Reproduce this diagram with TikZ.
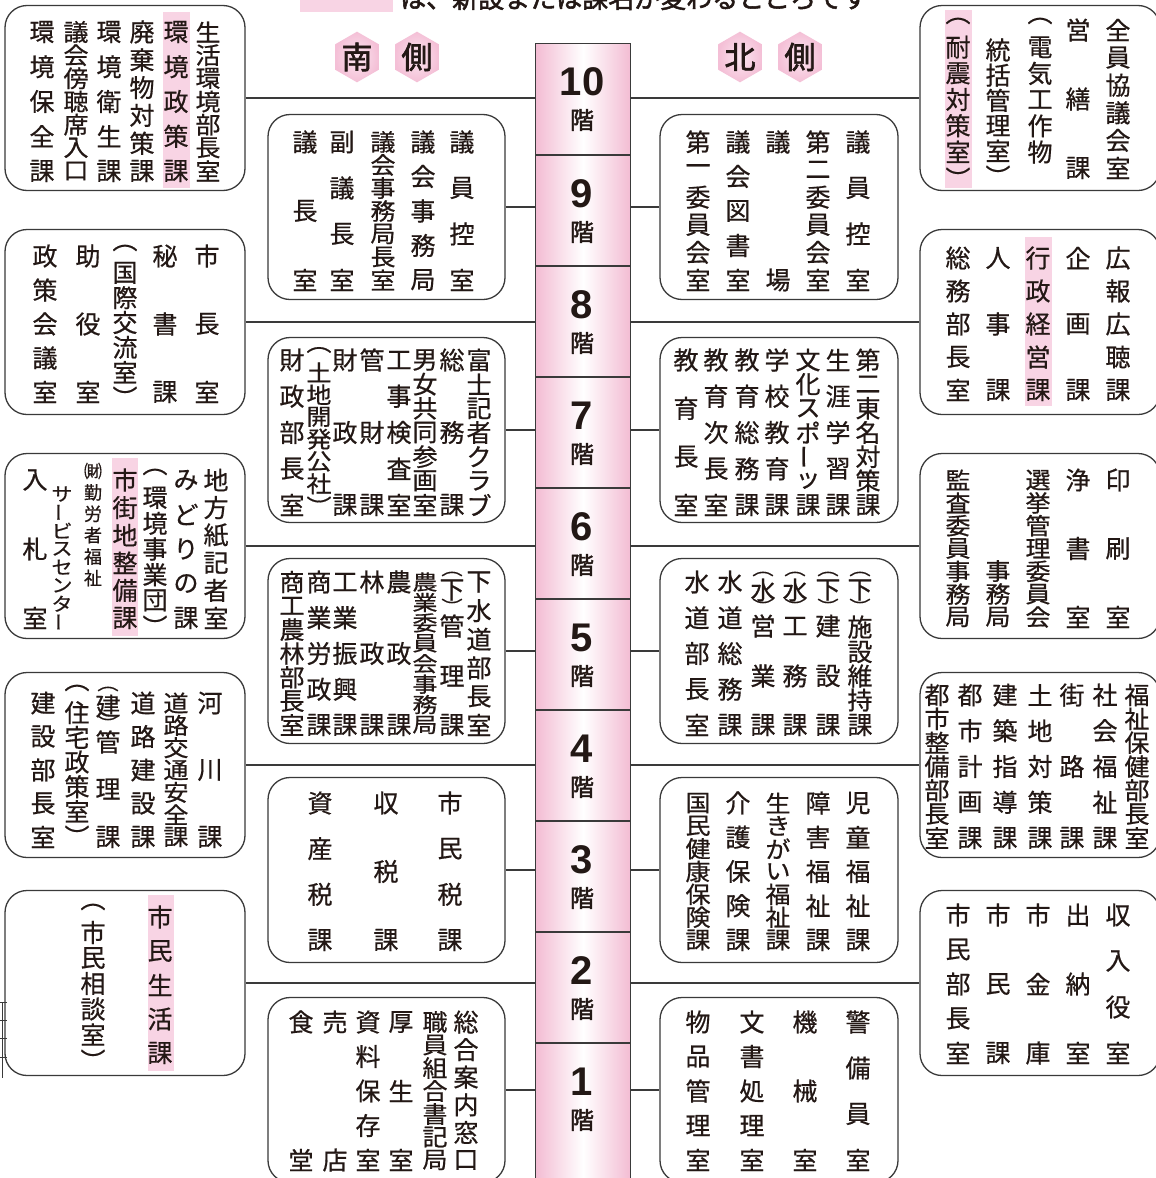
\documentclass[tikz,border=0pt]{standalone}
\usepackage{fontspec}
\usepackage{graphicx}
\usetikzlibrary{shapes.geometric}
\newfontfamily\jp{Noto Sans CJK JP}[FakeBold=0.6]
\newfontfamily\jpb{Noto Sans CJK JP}[FakeBold=2]
\newfontfamily\numf{Liberation Sans}
\definecolor{lc}{HTML}{3A3A3A}
\definecolor{tc}{HTML}{231815}
\definecolor{hl}{HTML}{F8D4E4}
\definecolor{pk}{HTML}{F3BCD3}
\definecolor{hexin}{HTML}{FBE6F0}
\definecolor{hexout}{HTML}{F4BFD6}
\newcounter{chc}
\newcommand\vb{\rotatebox[origin=c]{90}{ー}}
\newcommand\pl{\scalebox{0.85}[0.7]{︵}}
\newcommand\pr{\scalebox{0.85}[0.7]{︶}}
% #1 font size, #2 x, #3 top y, #4 bottom y, #5 count, #6 list
\newcommand\vcol[6][25]{%
  \foreach \c [count=\k from 0] in {#6}{%
    \pgfmathsetmacro\yy{#3+\k*(#4-#3)/max(#5-1,1)}%
    \pgfmathsetmacro\ys{min(1,(#4-#3)/max(#5-1,1)/(#1*0.98))}%
    \stepcounter{chc}%
    \node[jt, font=\jp\fontsize{#1}{#1}\selectfont] (ch\arabic{chc}) at (#2,\yy) {\scalebox{1}[\ys]{\c}};}}
\newcommand\vpos[3][25]{%
  \foreach \yy/\c in {#3}{%
    \stepcounter{chc}%
    \node[jt, font=\jp\fontsize{#1}{#1}\selectfont] (ch\arabic{chc}) at (#2,\yy) {\c};}}
\tikzset{
  ln/.style={draw=lc, line width=1.3pt},
  boxs/.style={draw=lc, line width=1.3pt, rounded corners=22pt, fill=white, minimum height=185pt, inner sep=0pt},
  jt/.style={inner sep=0pt, text=tc},
  hexs/.style={regular polygon, regular polygon sides=6, shape border rotate=30, minimum size=50pt, inner sep=0pt, inner color=hexin, outer color=hexout, text=tc, font=\jpb\fontsize{31}{31}\selectfont},
  numt/.style={inner sep=0pt, text=tc, font=\numf\bfseries\fontsize{40}{40}\selectfont},
  kait/.style={inner sep=0pt, text=tc, font=\jpb\fontsize{24}{24}\selectfont},
  hdr/.style={inner sep=0pt, text=tc, font=\jpb\fontsize{26}{26}\selectfont},
  hlbox/.style={fill=hl, draw=none}
}
\begin{document}
\begin{tikzpicture}[x=1pt, y=-1pt]
\useasboundingbox (0,0) rectangle (1156,1178);
\clip (0,0) rectangle (1156,1178);
\fill[white] (0,0) rectangle (1156,1178);

% header
\fill[hl] (300,-12) rectangle (393,12);
\node[hdr, anchor=west] (hdr) at (400,-2) {は、新設または課名が変わるところです};

% side labels
\node[hexs] (hs1) at (357,57) {南};
\node[hexs] (hs2) at (417,57) {側};
\node[hexs] (hn1) at (740,57) {北};
\node[hexs] (hn2) at (800,57) {側};

% central column
\node[draw=lc, line width=1.3pt, left color=pk, right color=pk, middle color=white, minimum width=95pt, minimum height=1170pt, anchor=north west, inner sep=0pt] (col) at (535,43) {};
\foreach \t in {155,266,377,488,599,710,821,932,1043}
  \draw[ln] (col.west |- 0,\t) -- (col.east |- 0,\t);
\foreach \f/\t in {10/43,9/155,8/266,7/377,6/488,5/599,4/710,3/821,2/932,1/1043}{
  \node[numt] (n\f) at (582,\t+39) {\f};
  \node[kait] (k\f) at (582,\t+77) {階};
}

% boxes
\node[boxs, minimum width=240pt] (L10) at (125,98) {};
\node[boxs, minimum width=240pt] (L8) at (125,322) {};
\node[boxs, minimum width=240pt] (L6) at (125,546) {};
\node[boxs, minimum width=240pt] (L4) at (125,765) {};
\node[boxs, minimum width=240pt] (L2) at (125,983) {};
\node[boxs, minimum width=237pt] (IL9) at (386.5,207) {};
\node[boxs, minimum width=237pt] (IL7) at (386.5,430) {};
\node[boxs, minimum width=237pt] (IL5) at (386.5,651) {};
\node[boxs, minimum width=237pt] (IL3) at (386.5,870) {};
\node[boxs, minimum width=237pt] (IL1) at (386.5,1090) {};
\node[boxs, minimum width=238pt] (IR9) at (779,207) {};
\node[boxs, minimum width=238pt] (IR7) at (779,430) {};
\node[boxs, minimum width=238pt] (IR5) at (779,651) {};
\node[boxs, minimum width=238pt] (IR3) at (779,870) {};
\node[boxs, minimum width=238pt] (IR1) at (779,1090) {};
\node[boxs, minimum width=240pt] (R10) at (1040,98) {};
\node[boxs, minimum width=240pt] (R8) at (1040,322) {};
\node[boxs, minimum width=240pt] (R6) at (1040,546) {};
\node[boxs, minimum width=240pt] (R4) at (1040,765) {};
\node[boxs, minimum width=240pt] (R2) at (1040,983) {};

% connectors
\foreach \b in {L10,L8,L6,L4,L2,IL9,IL7,IL5,IL3,IL1}
  \draw[ln] (\b.east) -- (\b.east -| col.west);
\foreach \b in {R10,R8,R6,R4,R2,IR9,IR7,IR5,IR3,IR1}
  \draw[ln] (col.east |- \b.west) -- (\b.west);

% small edge marks bottom-left
\draw[draw=lc, line width=0.7pt] (2,1002) -- (2,1078);
\foreach \t in {1002,1020,1038,1057}
  \draw[draw=lc, line width=0.7pt] (0,\t) -- (7,\t);

% highlights
\fill[hlbox] (163,12) rectangle (190,188);
\fill[hlbox] (112,458) rectangle (138,636);
\fill[hlbox] (148,895) rectangle (174,1071);
\fill[hlbox] (945,10) rectangle (972,188);
\fill[hlbox] (1025,237) rectangle (1052,406);

% ---- Left outer 10
\vcol{42}{32}{171}{5}{環,境,保,全,課}
\vcol{76}{32}{171}{7}{議,会,傍,聴,席,入,口}
\vcol{109}{32}{171}{5}{環,境,衛,生,課}
\vcol{142}{32}{171}{6}{廃,棄,物,対,策,課}
\vcol{176}{32}{171}{5}{環,境,政,策,課}
\vcol{208}{32}{171}{7}{生,活,環,境,部,長,室}
% ---- Left outer 8
\vcol{45}{256}{392}{5}{政,策,会,議,室}
\vcol{88}{256}{392}{3}{助,役,室}
\vcol{125}{248}{397}{7}{︵,国,際,交,流,室,︶}
\vcol{165}{256}{392}{3}{秘,書,課}
\vcol{207}{256}{392}{3}{市,長,室}
% ---- Left outer 6
\vcol{35}{480}{618}{3}{入,札,室}
\vcol[21]{62}{494}{622}{8}{サ,\vb,ビ,ス,セ,ン,タ,\vb}
\vcol[18]{93}{471}{578}{6}{㈶,勤,労,者,福,祉}
\vcol{125}{480}{618}{6}{市,街,地,整,備,課}
\vcol{155}{472}{626}{7}{︵,環,境,事,業,団,︶}
\vcol{186}{480}{618}{5}{み,ど,り,の,課}
\vcol{216}{480}{618}{6}{地,方,紙,記,者,室}
% ---- Left outer 4
\vcol{43}{703}{837}{5}{建,設,部,長,室}
\vcol{77}{688}{836}{7}{︵,住,宅,政,策,室,︶}
\vpos{108}{689/\pl,706/建,723/\pr,742/管,789/理,837/課}
\vcol{143}{703}{837}{5}{道,路,建,設,課}
\vcol{176}{703}{837}{7}{道,路,交,通,安,全,課}
\vcol{210}{703}{837}{3}{河,川,課}
% ---- Left outer 2
\vcol{93}{907}{1060}{7}{︵,市,民,相,談,室,︶}
\vcol{160}{917}{1053}{5}{市,民,生,活,課}

% ---- Inner left 9
\vcol{305}{142}{280}{3}{議,長,室}
\vcol{342}{142}{280}{4}{副,議,長,室}
\vcol{383}{142}{280}{7}{議,会,事,務,局,長,室}
\vcol{423}{142}{280}{5}{議,会,事,務,局}
\vcol{462}{142}{280}{4}{議,員,控,室}
% ---- Inner left 7
\vcol{292}{360}{505}{5}{財,政,部,長,室}
\vcol{319}{350}{506}{8}{︵,土,地,開,発,公,社,︶}
\vcol{345}{360}{505}{3}{財,政,課}
\vcol{372}{360}{505}{3}{管,財,課}
\vcol{399}{360}{505}{5}{工,事,検,査,室}
\vcol{425}{360}{505}{7}{男,女,共,同,参,画,室}
\vcol{452}{360}{505}{3}{総,務,課}
\vcol{479}{360}{505}{7}{富,士,記,者,ク,ラ,ブ}
% ---- Inner left 5
\vcol{292}{582}{725}{7}{商,工,農,林,部,長,室}
\vcol{319}{582}{725}{5}{商,業,労,政,課}
\vcol{345}{582}{725}{5}{工,業,振,興,課}
\vcol{372}{582}{725}{3}{林,政,課}
\vcol{399}{582}{725}{3}{農,政,課}
\vcol{425}{582}{725}{8}{農,業,委,員,会,事,務,局}
\vpos{452}{574/\pl,590/下,606/\pr,626/管,676/理,725/課}
\vcol{479}{582}{725}{6}{下,水,道,部,長,室}
% ---- Inner left 3
\vcol{320}{803}{940}{4}{資,産,税,課}
\vcol{386}{803}{940}{3}{収,税,課}
\vcol{450}{803}{940}{4}{市,民,税,課}
% ---- Inner left 1
\vcol{301}{1022}{1160}{2}{食,堂}
\vcol{335}{1022}{1160}{2}{売,店}
\vcol{368}{1022}{1160}{5}{資,料,保,存,室}
\vcol{401}{1022}{1160}{3}{厚,生,室}
\vcol{435}{1022}{1160}{7}{職,員,組,合,書,記,局}
\vcol{466}{1022}{1160}{6}{総,合,案,内,窓,口}

% ---- Inner right 9
\vcol{698}{142}{280}{6}{第,一,委,員,会,室}
\vcol{738}{142}{280}{5}{議,会,図,書,室}
\vcol{778}{142}{280}{2}{議,場}
\vcol{818}{142}{280}{6}{第,二,委,員,会,室}
\vcol{858}{142}{280}{4}{議,員,控,室}
% ---- Inner right 7
\vcol{686}{360}{505}{4}{教,育,長,室}
\vcol{716}{360}{505}{5}{教,育,次,長,室}
\vcol{747}{360}{505}{5}{教,育,総,務,課}
\vcol{777}{360}{505}{5}{学,校,教,育,課}
\vcol{808}{360}{505}{7}{文,化,ス,ポ,\vb,ッ,課}
\vcol{838}{360}{505}{5}{生,涯,学,習,課}
\vcol{868}{360}{505}{7}{第,二,東,名,対,策,課}
% ---- Inner right 5
\vcol{697}{582}{725}{5}{水,道,部,長,室}
\vcol{730}{582}{725}{5}{水,道,総,務,課}
\vpos{763}{574/\pl,590/水,606/\pr,626/営,676/業,725/課}
\vpos{795}{574/\pl,590/水,606/\pr,626/工,676/務,725/課}
\vpos{828}{574/\pl,590/下,606/\pr,626/建,676/設,725/課}
\vpos{860}{574/\pl,590/下,606/\pr,627/施,652/設,676/維,700/持,725/課}
% ---- Inner right 3
\vcol{698}{803}{940}{7}{国,民,健,康,保,険,課}
\vcol{738}{803}{940}{5}{介,護,保,険,課}
\vcol{778}{803}{940}{7}{生,き,が,い,福,祉,課}
\vcol{818}{803}{940}{5}{障,害,福,祉,課}
\vcol{858}{803}{940}{5}{児,童,福,祉,課}
% ---- Inner right 1
\vcol{698}{1022}{1160}{5}{物,品,管,理,室}
\vcol{752}{1022}{1160}{5}{文,書,処,理,室}
\vcol{805}{1022}{1160}{3}{機,械,室}
\vcol{858}{1022}{1160}{4}{警,備,員,室}

% ---- Right outer 10
\vcol{958}{21}{178}{7}{︵,耐,震,対,策,室,︶}
\vcol{998}{50}{176}{6}{統,括,管,理,室,︶}
\vcol{1040}{21}{152}{6}{︵,電,気,工,作,物}
\vcol{1078}{30}{168}{3}{営,繕,課}
\vcol{1118}{30}{168}{6}{全,員,協,議,会,室}
% ---- Right outer 8
\vcol{958}{258}{390}{5}{総,務,部,長,室}
\vcol{998}{258}{390}{3}{人,事,課}
\vcol{1038}{258}{390}{5}{行,政,経,営,課}
\vcol{1078}{258}{390}{3}{企,画,課}
\vcol{1118}{258}{390}{5}{広,報,広,聴,課}
% ---- Right outer 6
\vcol{958}{480}{617}{7}{監,査,委,員,事,務,局}
\vcol{998}{571}{617}{3}{事,務,局}
\vcol{1038}{480}{617}{7}{選,挙,管,理,委,員,会}
\vcol{1078}{480}{617}{3}{浄,書,室}
\vcol{1118}{480}{617}{3}{印,刷,室}
% ---- Right outer 4
\vcol{937}{695}{838}{7}{都,市,整,備,部,長,室}
\vcol{970}{695}{838}{5}{都,市,計,画,課}
\vcol{1005}{695}{838}{5}{建,築,指,導,課}
\vcol{1040}{695}{838}{5}{土,地,対,策,課}
\vcol{1072}{695}{838}{3}{街,路,課}
\vcol{1105}{695}{838}{5}{社,会,福,祉,課}
\vcol{1137}{695}{838}{7}{福,祉,保,健,部,長,室}
% ---- Right outer 2
\vcol{958}{915}{1053}{5}{市,民,部,長,室}
\vcol{998}{915}{1053}{3}{市,民,課}
\vcol{1038}{915}{1053}{3}{市,金,庫}
\vcol{1078}{915}{1053}{3}{出,納,室}
\vcol{1118}{915}{1053}{4}{収,入,役,室}
\end{tikzpicture}
\end{document}
